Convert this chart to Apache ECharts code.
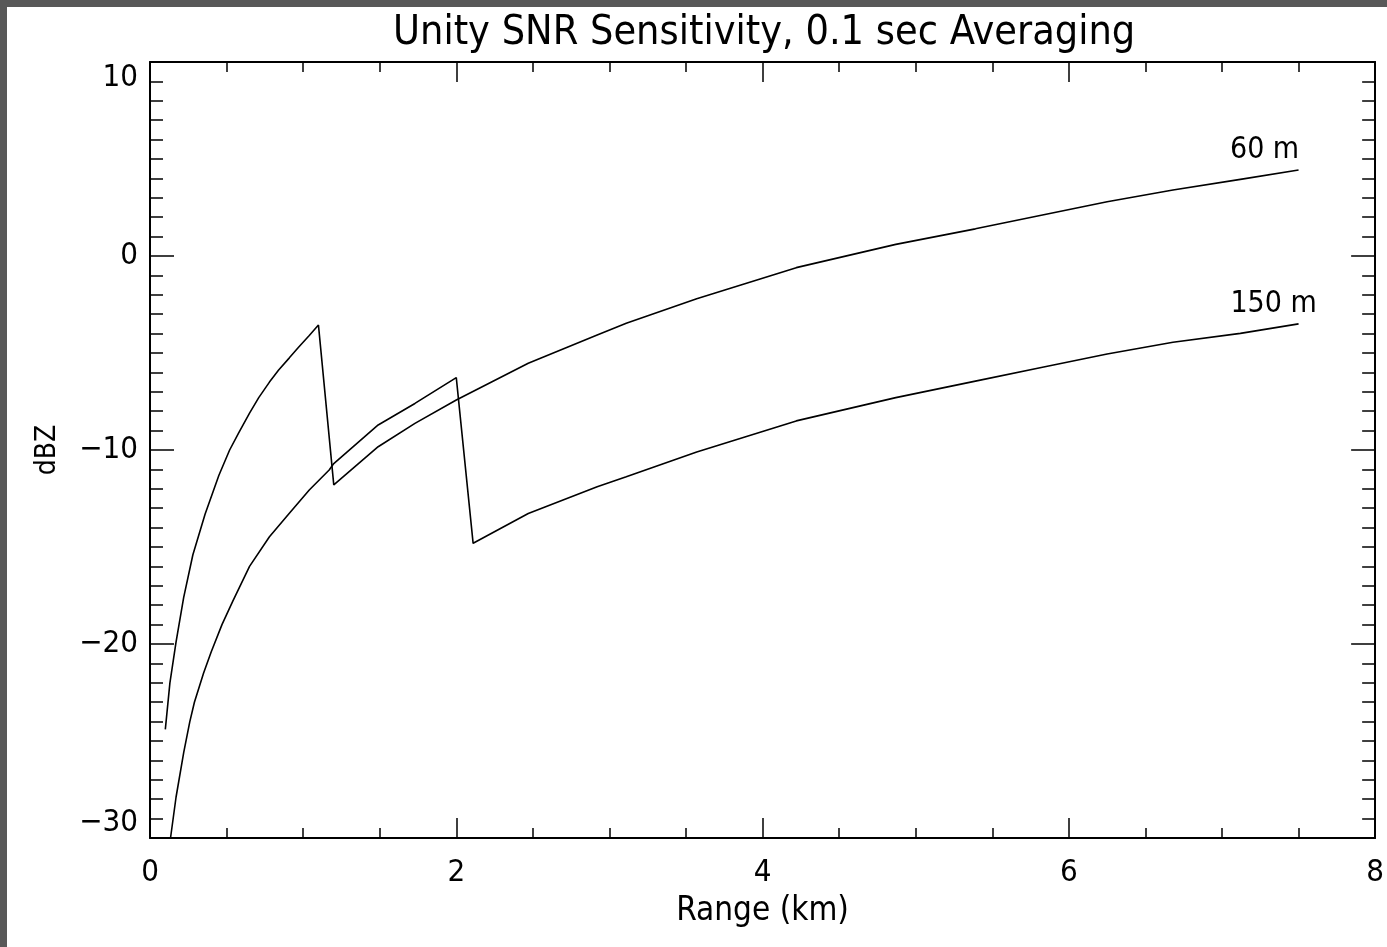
<!DOCTYPE html>
<html>
<head>
<meta charset="utf-8">
<script src="https://cdn.jsdelivr.net/npm/echarts@6/dist/echarts.min.js"></script>
<style>
  html, body { margin: 0; padding: 0; background: #585858; width: 1387px; height: 947px; overflow: hidden; }
  #chart { position: absolute; left: 7px; top: 7px; width: 1380px; height: 940px; background: #ffffff; }
</style>
</head>
<body>
<div id="chart"></div>
<script>
// ---- data ----
const titleText = 'Unity SNR Sensitivity, 0.1 sec Averaging';
const xAxisName = 'Range (km)';
const yAxisName = 'dBZ';
const seriesNames = ['60 m', '150 m'];

// 60 m curve: range (km)
const range60 = [0.10, 0.13, 0.17, 0.22, 0.28, 0.36, 0.45, 0.52, 0.58, 0.65, 0.71, 0.78, 0.84, 0.91, 0.97, 1.04, 1.10,
                 1.20, 1.49, 1.73, 2.00, 2.47, 2.92, 3.11, 3.57, 4.22, 4.87, 5.39, 5.82, 6.25, 6.68, 7.12, 7.50];
// 60 m curve: dBZ
const dbz60 = [-24.4, -22.0, -19.9, -17.6, -15.4, -13.3, -11.3, -10.0, -9.1, -8.1, -7.3, -6.5, -5.88, -5.25, -4.7, -4.1, -3.56,
               -11.8, -9.83, -8.63, -7.42, -5.53, -4.07, -3.47, -2.2, -0.6, 0.6, 1.4, 2.1, 2.8, 3.4, 3.95, 4.43];

// 150 m curve: range (km)
const range150 = [0.134, 0.17, 0.22, 0.26, 0.29, 0.35, 0.40, 0.47, 0.54, 0.65, 0.78, 0.91, 1.04, 1.17,
                  1.20, 1.49, 1.73, 2.00, 2.11, 2.47, 2.92, 3.11, 3.57, 4.22, 4.87, 5.39, 5.82, 6.25, 6.68, 7.12, 7.50];
// 150 m curve: dBZ
const dbz150 = [-30.0, -27.9, -25.6, -24.0, -23.0, -21.5, -20.4, -19.0, -17.8, -16.0, -14.47, -13.26, -12.06, -11.03,
                -10.7, -8.71, -7.6, -6.27, -14.81, -13.27, -11.9, -11.38, -10.1, -8.5, -7.3, -6.45, -5.75, -5.05, -4.45, -3.99, -3.5];

const xTicks = { min: 0, max: 8, interval: 2 };
const yTicks = { min: -30, max: 10, interval: 10 };

// ---- chart ----
const fontFam = '"DejaVu Sans Condensed", "Liberation Sans", "DejaVu Sans", sans-serif';

function pairs(xs, ys) { return xs.map((x, i) => [x, ys[i]]); }

const axisLine = { show: true, onZero: false, lineStyle: { color: '#000', width: 2 } };
const minusFmt = v => String(v).replace('-', '\u2212');

function xAx(pos, showLabel) {
  return {
    type: 'value', position: pos, min: xTicks.min, max: xTicks.max, interval: xTicks.interval,
    axisLine: axisLine,
    axisTick: { show: true, inside: true, length: 20, lineStyle: { color: '#000', width: 1.5 } },
    minorTick: { show: true, splitNumber: 4, length: 10, lineStyle: { color: '#000', width: 1.5 } },
    splitLine: { show: false }, minorSplitLine: { show: false },
    axisLabel: { show: showLabel, color: '#000', fontSize: 31, fontFamily: fontFam, margin: 19, formatter: minusFmt },
    name: showLabel ? xAxisName : '', nameLocation: 'middle', nameGap: 57,
    nameTextStyle: { color: '#000', fontSize: 33, fontFamily: fontFam }
  };
}
function yAx(pos, showLabel) {
  return {
    type: 'value', position: pos, min: yTicks.min, max: yTicks.max, interval: yTicks.interval,
    axisLine: axisLine,
    axisTick: { show: true, inside: true, length: 24, lineStyle: { color: '#000', width: 1.5 } },
    minorTick: { show: true, splitNumber: 10, length: 13, lineStyle: { color: '#000', width: 1.5 } },
    splitLine: { show: false }, minorSplitLine: { show: false },
    axisLabel: { show: showLabel, color: '#000', fontSize: 31, fontFamily: fontFam, margin: 12, formatter: minusFmt,
                 verticalAlignMinLabel: 'bottom', verticalAlignMaxLabel: 'top' },
    name: showLabel ? yAxisName : '', nameLocation: 'middle', nameGap: 88, nameRotate: 90,
    nameTextStyle: { color: '#000', fontSize: 28, fontFamily: fontFam }
  };
}

function endLbl(text, offset) {
  return { show: true, formatter: text, align: 'center', verticalAlign: 'bottom', distance: 0,
           offset: offset, color: '#000', fontSize: 30, fontFamily: fontFam };
}

const chart = echarts.init(document.getElementById('chart'), null, { renderer: 'canvas' });
chart.setOption({
  backgroundColor: '#ffffff',
  animation: false,
  title: {
    text: titleText, left: 381, top: 1,
    textStyle: { color: '#000', fontSize: 41, fontWeight: 'normal', fontFamily: fontFam }
  },
  grid: { left: 143, top: 55, right: 4, bottom: 109, containLabel: false },
  xAxis: [xAx('bottom', true), xAx('top', false)],
  yAxis: [yAx('left', true), yAx('right', false)],
  series: [
    {
      name: seriesNames[0], type: 'line', showSymbol: false, symbol: 'none', clip: true,
      data: pairs(range60, dbz60),
      endLabel: endLbl(seriesNames[0], [-34, -5]),
      lineStyle: { color: '#000', width: 1.6 }, itemStyle: { color: '#000' }
    },
    {
      name: seriesNames[1], type: 'line', showSymbol: false, symbol: 'none', clip: true,
      data: pairs(range150, dbz150),
      endLabel: endLbl(seriesNames[1], [-25, -5]),
      lineStyle: { color: '#000', width: 1.6 }, itemStyle: { color: '#000' }
    }
  ]
});
</script>
</body>
</html>
